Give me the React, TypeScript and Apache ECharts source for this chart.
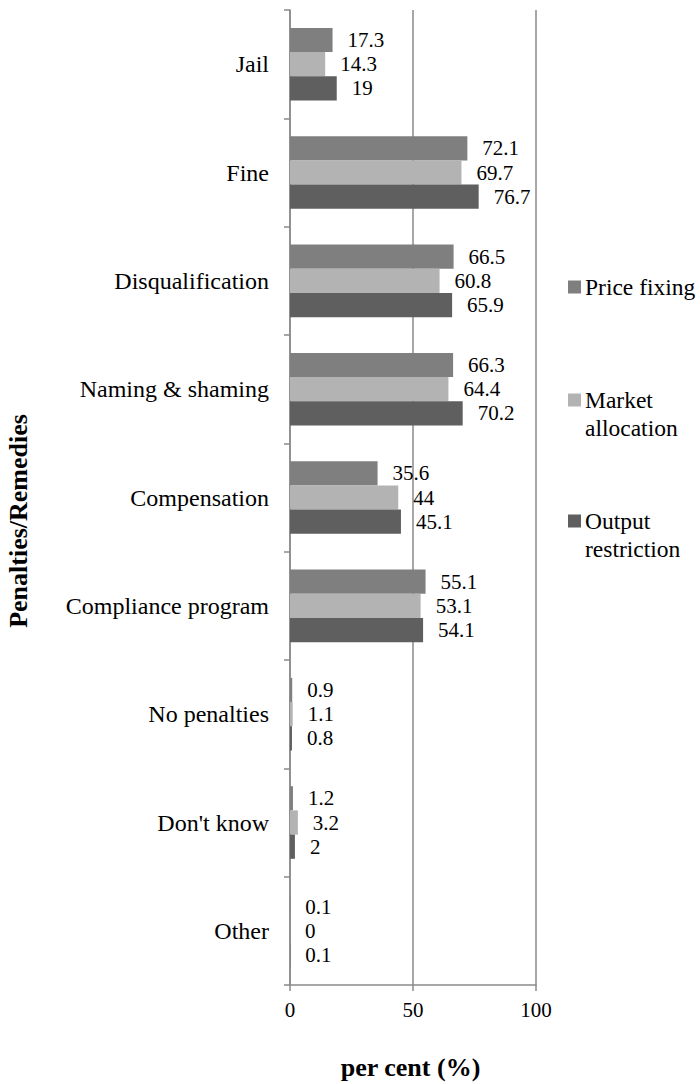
import React, { useEffect, useRef } from "react";
import * as echarts from "echarts";

const categories = [
  "Jail",
  "Fine",
  "Disqualification",
  "Naming & shaming",
  "Compensation",
  "Compliance program",
  "No penalties",
  "Don't know",
  "Other",
];
const seriesNames = ["Price fixing", "Market allocation", "Output restriction"];
const legendLabels = ["Price fixing", "Market\nallocation", "Output\nrestriction"];
const priceFixing = [17.3, 72.1, 66.5, 66.3, 35.6, 55.1, 0.9, 1.2, 0.1];
const marketAllocation = [14.3, 69.7, 60.8, 64.4, 44, 53.1, 1.1, 3.2, 0];
const outputRestriction = [19, 76.7, 65.9, 70.2, 45.1, 54.1, 0.8, 2, 0.1];
const xTicks = [0, 50, 100];
const colors = ["#7f7f7f", "#b3b3b3", "#5f5f5f"];

const FONT = "serif";

export default function App() {
  const ref = useRef<HTMLDivElement>(null);
  useEffect(() => {
    if (!ref.current) return;
    const chart = echarts.init(ref.current, null, { renderer: "svg" });
    const values = [priceFixing, marketAllocation, outputRestriction];
    const legendY = [287, 400, 521];
    const legendGraphics: any[] = [];
    legendLabels.forEach((lab, i) => {
      legendGraphics.push({
        type: "rect",
        shape: { x: 568, y: legendY[i] - 6.5, width: 13, height: 13 },
        style: { fill: colors[i] },
      });
      legendGraphics.push({
        type: "text",
        x: 585,
        y: legendY[i] - 14,
        style: {
          text: lab,
          fontFamily: FONT,
          fontSize: 23.5,
          fill: "#000",
          align: "left",
          verticalAlign: "top",
          lineHeight: 28,
        },
      });
    });
    chart.setOption({
      animation: false,
      backgroundColor: "#fff",
      textStyle: { fontFamily: FONT },
      grid: { left: 290, right: 164, top: 10, bottom: 99, containLabel: false },
      xAxis: {
        type: "value",
        min: 0,
        max: 100,
        interval: 50,
        axisLine: { show: true, lineStyle: { color: "#8a8a8a", width: 1.5 } },
        axisTick: { show: true, length: 6, lineStyle: { color: "#8a8a8a", width: 1.5 } },
        axisLabel: {
          margin: 14,
          color: "#000",
          fontFamily: FONT,
          fontSize: 21,
          formatter: (v: number) => (xTicks.includes(v) ? String(v) : ""),
        },
        splitLine: { show: true, lineStyle: { color: "#8a8a8a", width: 1.5 } },
      },
      yAxis: {
        type: "category",
        data: categories,
        inverse: true,
        axisLine: { show: true, lineStyle: { color: "#8a8a8a", width: 1.5 } },
        axisTick: { show: true, length: 6, lineStyle: { color: "#8a8a8a", width: 1.5 } },
        axisLabel: {
          margin: 21,
          color: "#000",
          fontFamily: FONT,
          fontSize: 24,
        },
        splitLine: { show: false },
      },
      series: seriesNames.map((name, i) => ({
        name,
        type: "bar",
        data: values[i],
        barGap: "0%",
        barCategoryGap: "33%",
        itemStyle: { color: colors[i] },
        label: {
          show: true,
          position: "right",
          distance: 15,
          color: "#000",
          fontFamily: FONT,
          fontSize: 21,
          formatter: (p: any) => String(p.value),
        },
      })),
      graphic: [
        {
          type: "text",
          x: 410.5,
          y: 1067,
          style: {
            text: "per cent (%)",
            fontFamily: FONT,
            fontSize: 26,
            fontWeight: "bold",
            fill: "#000",
            align: "center",
            verticalAlign: "middle",
          },
        },
        {
          type: "text",
          x: 18.5,
          y: 521,
          rotation: Math.PI / 2,
          style: {
            text: "Penalties/Remedies",
            fontFamily: FONT,
            fontSize: 26,
            fontWeight: "bold",
            fill: "#000",
            align: "center",
            verticalAlign: "middle",
          },
        },
        ...legendGraphics,
      ],
    });
    return () => chart.dispose();
  }, []);
  return <div ref={ref} style={{ width: 700, height: 1084, position: "absolute", left: 0, top: 0 }} />;
}
